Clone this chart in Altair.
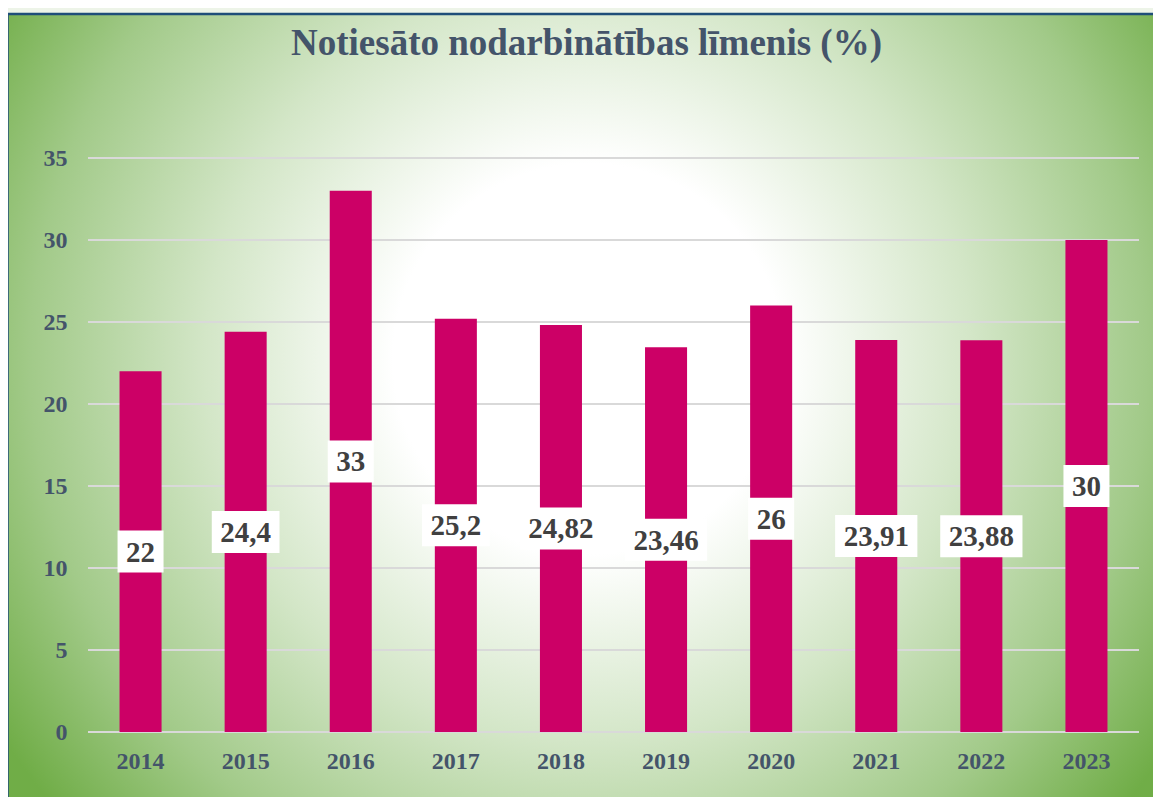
import altair as alt
import pandas as pd

years = ["2014", "2015", "2016", "2017", "2018", "2019", "2020", "2021", "2022", "2023"]
values = [22, 24.4, 33, 25.2, 24.82, 23.46, 26, 23.91, 23.88, 30]
grid_values = [0, 5, 10, 15, 20, 25, 30, 35]
title_text = "Notiesāto nodarbinātības līmenis (%)"

df = pd.DataFrame({"year": years, "value": values})
grid_df = pd.DataFrame({"g": grid_values})
bg_df = pd.DataFrame({"a": [0]})

FONT = "Liberation Serif"
AXIS_COLOR = "#44546A"

y_scale = alt.Scale(domain=[0, 35], nice=False)
x_scale = alt.Scale(paddingInner=0.6, paddingOuter=0.3)

gradient = alt.RadialGradient(
    gradient="radial",
    stops=[
        alt.GradientStop(offset=0, color="#FFFFFF"),
        alt.GradientStop(offset=0.28, color="#FFFFFF"),
        alt.GradientStop(offset=0.55, color="#D3E6C7"),
        alt.GradientStop(offset=0.8, color="#A2CA89"),
        alt.GradientStop(offset=1, color="#70AD47"),
    ],
    x1=0.5, y1=0.45, r1=0, x2=0.5, y2=0.45, r2=0.6,
)

background = alt.Chart(bg_df).mark_rect(
    fill=gradient, stroke="#1F4E79", strokeWidth=2.5
).encode(
    x=alt.value(-80.5), x2=alt.value(1082), y=alt.value(-144), y2=alt.value(662)
)

grid = alt.Chart(grid_df).mark_rule(color="#D9D9D9", strokeWidth=2).encode(
    y=alt.Y(
        "g:Q", scale=y_scale, title=None,
        axis=alt.Axis(
            values=grid_values, labelFont=FONT, labelFontSize=24, labelFontWeight="bold",
            labelColor=AXIS_COLOR, ticks=False, domain=False, grid=False, labelPadding=21,
            zindex=1, title=None,
        ),
    )
)

bars = alt.Chart(df).mark_bar(color="#CC0066").encode(
    x=alt.X(
        "year:N", scale=x_scale, sort=years, title=None,
        axis=alt.Axis(
            labelAngle=0, labelFont=FONT, labelFontSize=24, labelFontWeight="bold",
            labelColor=AXIS_COLOR, ticks=False, domain=False, grid=False, labelPadding=17,
            zindex=1, title=None,
        ),
    ),
    y=alt.Y("value:Q", scale=y_scale, title=None),
)

label_base = alt.Chart(df).transform_calculate(
    half="datum.value / 2",
    label="replace(toString(datum.value), '.', ',')",
).transform_calculate(
    boxw="14.5 * length(datum.label) - (indexof(datum.label, ',') >= 0 ? 7.25 : 0) + 17"
)

boxes = label_base.mark_tick(color="white", thickness=42, opacity=1).encode(
    x=alt.X("year:N", scale=x_scale, sort=years, title=None),
    y=alt.Y("half:Q", scale=y_scale, title=None),
    size=alt.Size("boxw:Q", scale=None, legend=None),
)

texts = label_base.mark_text(
    font=FONT, fontSize=29, fontWeight="bold", color="#404040", baseline="middle", dy=1
).encode(
    x=alt.X("year:N", scale=x_scale, sort=years, title=None),
    y=alt.Y("half:Q", scale=y_scale, title=None),
    text="label:N",
)

chart = alt.layer(background, grid, bars, boxes, texts).properties(
    width=1051,
    height=574,
    autosize="none",
    padding={"left": 80, "top": 150, "right": 14, "bottom": 65},
    background="#EDF4E8",
    title=alt.TitleParams(
        title_text, font=FONT, fontSize=37, fontWeight="bold", color=AXIS_COLOR,
        anchor="middle", frame="group", offset=-50, dx=-27, zindex=1,
    ),
).configure_view(stroke=None)

chart.save("out.html", embed_options={"renderer": "svg", "actions": False})
